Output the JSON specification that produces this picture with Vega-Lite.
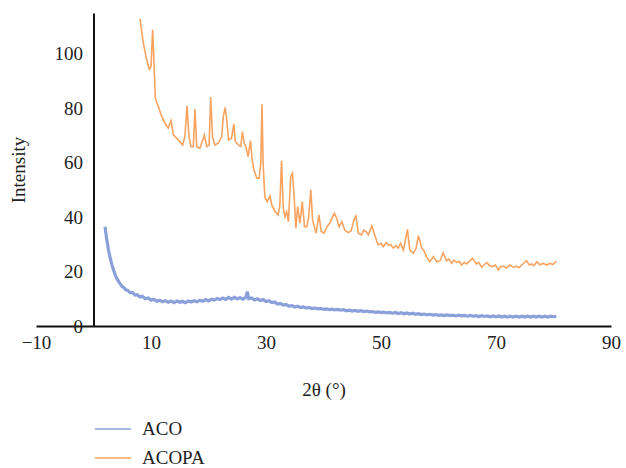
{
"$schema": "https://vega.github.io/schema/vega-lite/v6.json",
"width": 575, "height": 313,
"autosize": "none",
"padding": {"left": 36, "top": 13, "right": 15, "bottom": 142},
"background": "white",
"config": {"view": {"stroke": null}, "font": "Liberation Serif"},
"data": {"values": [
{"s":"ACO","x":2.0,"y":36.5},{"s":"ACO","x":2.3,"y":32},{"s":"ACO","x":2.6,"y":28},{"s":"ACO","x":2.9,"y":25},{"s":"ACO","x":3.2,"y":22.5},{"s":"ACO","x":3.5,"y":20.5},{"s":"ACO","x":3.8,"y":18.6},{"s":"ACO","x":4.1,"y":17.3},{"s":"ACO","x":4.4,"y":16.2},{"s":"ACO","x":4.7,"y":15.3},{"s":"ACO","x":5.0,"y":14.4},{"s":"ACO","x":5.3,"y":14.1},{"s":"ACO","x":5.6,"y":13.3},{"s":"ACO","x":6.0,"y":13.0},{"s":"ACO","x":6.4,"y":12.2},{"s":"ACO","x":6.8,"y":12.3},{"s":"ACO","x":7.2,"y":11.4},{"s":"ACO","x":7.6,"y":11.5},{"s":"ACO","x":8.0,"y":10.7},{"s":"ACO","x":8.5,"y":10.9},{"s":"ACO","x":9.0,"y":10.0},{"s":"ACO","x":9.5,"y":10.3},{"s":"ACO","x":10,"y":9.5},{"s":"ACO","x":10.5,"y":9.8},{"s":"ACO","x":11,"y":9.1},{"s":"ACO","x":11.5,"y":9.5},{"s":"ACO","x":12,"y":8.9},{"s":"ACO","x":12.5,"y":9.3},{"s":"ACO","x":13,"y":8.7},{"s":"ACO","x":13.5,"y":9.2},{"s":"ACO","x":14,"y":8.6},{"s":"ACO","x":14.5,"y":9.2},{"s":"ACO","x":15,"y":8.7},{"s":"ACO","x":15.5,"y":9.1},{"s":"ACO","x":16,"y":8.6},{"s":"ACO","x":16.5,"y":9.2},{"s":"ACO","x":17,"y":8.8},{"s":"ACO","x":17.5,"y":9.3},{"s":"ACO","x":18,"y":8.9},{"s":"ACO","x":18.5,"y":9.5},{"s":"ACO","x":19,"y":9.1},{"s":"ACO","x":19.5,"y":9.7},{"s":"ACO","x":20,"y":9.2},{"s":"ACO","x":20.5,"y":9.8},{"s":"ACO","x":21,"y":9.5},{"s":"ACO","x":21.5,"y":10.1},{"s":"ACO","x":22,"y":9.7},{"s":"ACO","x":22.5,"y":10.3},{"s":"ACO","x":23,"y":9.8},{"s":"ACO","x":23.5,"y":10.5},{"s":"ACO","x":24,"y":9.9},{"s":"ACO","x":24.5,"y":10.5},{"s":"ACO","x":25,"y":10.0},{"s":"ACO","x":25.5,"y":10.4},{"s":"ACO","x":26,"y":9.9},{"s":"ACO","x":26.5,"y":10.6},{"s":"ACO","x":26.75,"y":12.6},{"s":"ACO","x":27,"y":10.0},{"s":"ACO","x":27.5,"y":10.3},{"s":"ACO","x":28,"y":9.6},{"s":"ACO","x":28.5,"y":10.0},{"s":"ACO","x":29,"y":9.4},{"s":"ACO","x":29.5,"y":9.7},{"s":"ACO","x":30,"y":9.0},{"s":"ACO","x":30.5,"y":9.3},{"s":"ACO","x":31,"y":8.6},{"s":"ACO","x":31.5,"y":8.8},{"s":"ACO","x":32,"y":8.1},{"s":"ACO","x":32.5,"y":8.3},{"s":"ACO","x":33,"y":7.7},{"s":"ACO","x":33.5,"y":7.9},{"s":"ACO","x":34,"y":7.3},{"s":"ACO","x":34.5,"y":7.5},{"s":"ACO","x":35,"y":7.0},{"s":"ACO","x":35.5,"y":7.3},{"s":"ACO","x":36,"y":6.8},{"s":"ACO","x":36.5,"y":7.0},{"s":"ACO","x":37,"y":6.6},{"s":"ACO","x":37.5,"y":6.8},{"s":"ACO","x":38,"y":6.4},{"s":"ACO","x":38.5,"y":6.6},{"s":"ACO","x":39,"y":6.3},{"s":"ACO","x":39.5,"y":6.5},{"s":"ACO","x":40,"y":6.1},{"s":"ACO","x":40.5,"y":6.3},{"s":"ACO","x":41,"y":6.0},{"s":"ACO","x":41.5,"y":6.2},{"s":"ACO","x":42,"y":5.9},{"s":"ACO","x":42.5,"y":6.1},{"s":"ACO","x":43,"y":5.8},{"s":"ACO","x":43.5,"y":6.0},{"s":"ACO","x":44,"y":5.6},{"s":"ACO","x":44.5,"y":5.8},{"s":"ACO","x":45,"y":5.5},{"s":"ACO","x":45.5,"y":5.7},{"s":"ACO","x":46,"y":5.4},{"s":"ACO","x":46.5,"y":5.6},{"s":"ACO","x":47,"y":5.3},{"s":"ACO","x":47.5,"y":5.5},{"s":"ACO","x":48,"y":5.2},{"s":"ACO","x":48.5,"y":5.3},{"s":"ACO","x":49,"y":5.0},{"s":"ACO","x":49.5,"y":5.2},{"s":"ACO","x":50,"y":4.9},{"s":"ACO","x":50.5,"y":5.1},{"s":"ACO","x":51,"y":4.8},{"s":"ACO","x":51.5,"y":5.0},{"s":"ACO","x":52,"y":4.7},{"s":"ACO","x":52.5,"y":5.0},{"s":"ACO","x":53,"y":4.6},{"s":"ACO","x":53.5,"y":4.9},{"s":"ACO","x":54,"y":4.5},{"s":"ACO","x":54.5,"y":4.8},{"s":"ACO","x":55,"y":4.4},{"s":"ACO","x":55.5,"y":4.7},{"s":"ACO","x":56,"y":4.3},{"s":"ACO","x":56.5,"y":4.5},{"s":"ACO","x":57,"y":4.2},{"s":"ACO","x":57.5,"y":4.4},{"s":"ACO","x":58,"y":4.1},{"s":"ACO","x":58.5,"y":4.3},{"s":"ACO","x":59,"y":4.0},{"s":"ACO","x":59.5,"y":4.2},{"s":"ACO","x":60,"y":3.9},{"s":"ACO","x":60.5,"y":4.1},{"s":"ACO","x":61,"y":3.8},{"s":"ACO","x":61.5,"y":4.1},{"s":"ACO","x":62,"y":3.8},{"s":"ACO","x":62.5,"y":4.0},{"s":"ACO","x":63,"y":3.7},{"s":"ACO","x":63.5,"y":4.0},{"s":"ACO","x":64,"y":3.7},{"s":"ACO","x":64.5,"y":3.9},{"s":"ACO","x":65,"y":3.6},{"s":"ACO","x":65.5,"y":3.9},{"s":"ACO","x":66,"y":3.6},{"s":"ACO","x":66.5,"y":3.8},{"s":"ACO","x":67,"y":3.5},{"s":"ACO","x":67.5,"y":3.8},{"s":"ACO","x":68,"y":3.5},{"s":"ACO","x":68.5,"y":3.7},{"s":"ACO","x":69,"y":3.4},{"s":"ACO","x":69.5,"y":3.7},{"s":"ACO","x":70,"y":3.4},{"s":"ACO","x":70.5,"y":3.7},{"s":"ACO","x":71,"y":3.3},{"s":"ACO","x":71.5,"y":3.6},{"s":"ACO","x":72,"y":3.3},{"s":"ACO","x":72.5,"y":3.6},{"s":"ACO","x":73,"y":3.3},{"s":"ACO","x":73.5,"y":3.6},{"s":"ACO","x":74,"y":3.3},{"s":"ACO","x":74.5,"y":3.6},{"s":"ACO","x":75,"y":3.3},{"s":"ACO","x":75.5,"y":3.6},{"s":"ACO","x":76,"y":3.3},{"s":"ACO","x":76.5,"y":3.6},{"s":"ACO","x":77,"y":3.3},{"s":"ACO","x":77.5,"y":3.6},{"s":"ACO","x":78,"y":3.3},{"s":"ACO","x":78.5,"y":3.6},{"s":"ACO","x":79,"y":3.3},{"s":"ACO","x":79.5,"y":3.6},{"s":"ACO","x":80,"y":3.4},{"s":"ACO","x":80.5,"y":3.6},
{"s":"ACOPA","x":8.09,"y":112.8},{"s":"ACOPA","x":8.67,"y":103.9},{"s":"ACOPA","x":9.25,"y":97.8},{"s":"ACOPA","x":9.7,"y":94.4},{"s":"ACOPA","x":10.0,"y":95.3},{"s":"ACOPA","x":10.29,"y":108.8},{"s":"ACOPA","x":10.5,"y":97.8},{"s":"ACOPA","x":10.75,"y":83.7},{"s":"ACOPA","x":11.27,"y":80.6},{"s":"ACOPA","x":11.86,"y":77},{"s":"ACOPA","x":12.43,"y":74.5},{"s":"ACOPA","x":13.0,"y":72.7},{"s":"ACOPA","x":13.48,"y":75.4},{"s":"ACOPA","x":13.9,"y":70.2},{"s":"ACOPA","x":14.75,"y":68.4},{"s":"ACOPA","x":15.5,"y":66.5},{"s":"ACOPA","x":15.9,"y":69.6},{"s":"ACOPA","x":16.26,"y":80.9},{"s":"ACOPA","x":16.6,"y":69.6},{"s":"ACOPA","x":16.96,"y":65.9},{"s":"ACOPA","x":17.36,"y":65.9},{"s":"ACOPA","x":17.65,"y":79.7},{"s":"ACOPA","x":17.95,"y":65.9},{"s":"ACOPA","x":18.5,"y":65.3},{"s":"ACOPA","x":19.27,"y":70.2},{"s":"ACOPA","x":19.7,"y":65.9},{"s":"ACOPA","x":20.1,"y":66.5},{"s":"ACOPA","x":20.38,"y":84.1},{"s":"ACOPA","x":20.7,"y":69.6},{"s":"ACOPA","x":21.1,"y":66.5},{"s":"ACOPA","x":21.7,"y":67.2},{"s":"ACOPA","x":22.3,"y":69.6},{"s":"ACOPA","x":22.57,"y":77},{"s":"ACOPA","x":22.9,"y":80.3},{"s":"ACOPA","x":23.17,"y":75.7},{"s":"ACOPA","x":23.5,"y":68.4},{"s":"ACOPA","x":24.0,"y":69},{"s":"ACOPA","x":24.4,"y":74.3},{"s":"ACOPA","x":24.66,"y":67.8},{"s":"ACOPA","x":25.2,"y":66.5},{"s":"ACOPA","x":25.6,"y":65.9},{"s":"ACOPA","x":25.9,"y":71.4},{"s":"ACOPA","x":26.2,"y":67.2},{"s":"ACOPA","x":26.5,"y":65.9},{"s":"ACOPA","x":26.9,"y":62.2},{"s":"ACOPA","x":27.3,"y":68.1},{"s":"ACOPA","x":27.6,"y":61},{"s":"ACOPA","x":27.9,"y":57.4},{"s":"ACOPA","x":28.4,"y":54.3},{"s":"ACOPA","x":28.8,"y":54.3},{"s":"ACOPA","x":29.1,"y":59.8},{"s":"ACOPA","x":29.3,"y":81.5},{"s":"ACOPA","x":29.5,"y":59.8},{"s":"ACOPA","x":29.8,"y":47.5},{"s":"ACOPA","x":30.2,"y":45.7},{"s":"ACOPA","x":30.7,"y":47.8},{"s":"ACOPA","x":31.0,"y":44.5},{"s":"ACOPA","x":31.6,"y":42},{"s":"ACOPA","x":32.1,"y":40.8},{"s":"ACOPA","x":32.4,"y":43.9},{"s":"ACOPA","x":32.7,"y":60.7},{"s":"ACOPA","x":33.0,"y":43.3},{"s":"ACOPA","x":33.3,"y":40.2},{"s":"ACOPA","x":33.6,"y":42},{"s":"ACOPA","x":33.9,"y":38.3},{"s":"ACOPA","x":34.3,"y":54.9},{"s":"ACOPA","x":34.6,"y":56.1},{"s":"ACOPA","x":34.9,"y":47.5},{"s":"ACOPA","x":35.2,"y":35.9},{"s":"ACOPA","x":35.5,"y":43.9},{"s":"ACOPA","x":35.9,"y":37.8},{"s":"ACOPA","x":36.3,"y":45.7},{"s":"ACOPA","x":36.7,"y":36.5},{"s":"ACOPA","x":37.1,"y":36.5},{"s":"ACOPA","x":37.4,"y":39.6},{"s":"ACOPA","x":37.8,"y":50},{"s":"ACOPA","x":38.1,"y":39},{"s":"ACOPA","x":38.4,"y":36.5},{"s":"ACOPA","x":38.7,"y":34.1},{"s":"ACOPA","x":39.2,"y":40.8},{"s":"ACOPA","x":39.6,"y":34.7},{"s":"ACOPA","x":40.1,"y":34.1},{"s":"ACOPA","x":40.6,"y":36.5},{"s":"ACOPA","x":41.1,"y":37.8},{"s":"ACOPA","x":41.6,"y":40.2},{"s":"ACOPA","x":41.9,"y":41.4},{"s":"ACOPA","x":42.3,"y":39.6},{"s":"ACOPA","x":42.7,"y":36.5},{"s":"ACOPA","x":43.2,"y":38.3},{"s":"ACOPA","x":43.7,"y":35.3},{"s":"ACOPA","x":44.3,"y":34.3},{"s":"ACOPA","x":44.8,"y":34.9},{"s":"ACOPA","x":45.3,"y":39},{"s":"ACOPA","x":45.65,"y":40.4},{"s":"ACOPA","x":46.05,"y":34.1},{"s":"ACOPA","x":46.6,"y":33.5},{"s":"ACOPA","x":47.0,"y":35.2},{"s":"ACOPA","x":47.4,"y":34.7},{"s":"ACOPA","x":47.8,"y":33.5},{"s":"ACOPA","x":48.4,"y":36.8},{"s":"ACOPA","x":49.0,"y":32.8},{"s":"ACOPA","x":49.5,"y":29.8},{"s":"ACOPA","x":50.0,"y":30.4},{"s":"ACOPA","x":50.4,"y":29.2},{"s":"ACOPA","x":50.9,"y":30.6},{"s":"ACOPA","x":51.3,"y":29.8},{"s":"ACOPA","x":51.7,"y":29.9},{"s":"ACOPA","x":52.1,"y":28.6},{"s":"ACOPA","x":52.6,"y":29.5},{"s":"ACOPA","x":53.0,"y":28.6},{"s":"ACOPA","x":53.4,"y":30.4},{"s":"ACOPA","x":53.9,"y":27.9},{"s":"ACOPA","x":54.6,"y":35.5},{"s":"ACOPA","x":55.0,"y":27.9},{"s":"ACOPA","x":55.6,"y":26.7},{"s":"ACOPA","x":56.1,"y":28.5},{"s":"ACOPA","x":56.5,"y":33.2},{"s":"ACOPA","x":57.1,"y":28.6},{"s":"ACOPA","x":57.5,"y":27.6},{"s":"ACOPA","x":57.9,"y":25.5},{"s":"ACOPA","x":58.5,"y":23.6},{"s":"ACOPA","x":59.1,"y":25.5},{"s":"ACOPA","x":59.7,"y":23.6},{"s":"ACOPA","x":60.3,"y":24},{"s":"ACOPA","x":60.8,"y":26.9},{"s":"ACOPA","x":61.4,"y":24},{"s":"ACOPA","x":61.8,"y":24.6},{"s":"ACOPA","x":62.3,"y":23},{"s":"ACOPA","x":62.7,"y":24.2},{"s":"ACOPA","x":63.2,"y":23.3},{"s":"ACOPA","x":63.6,"y":23.8},{"s":"ACOPA","x":64.0,"y":22.4},{"s":"ACOPA","x":64.5,"y":23.4},{"s":"ACOPA","x":64.9,"y":22.8},{"s":"ACOPA","x":65.9,"y":24.9},{"s":"ACOPA","x":66.6,"y":22.8},{"s":"ACOPA","x":67.0,"y":23.4},{"s":"ACOPA","x":67.5,"y":21.6},{"s":"ACOPA","x":68.0,"y":22.6},{"s":"ACOPA","x":68.4,"y":23.3},{"s":"ACOPA","x":68.9,"y":22.2},{"s":"ACOPA","x":69.3,"y":21.8},{"s":"ACOPA","x":69.9,"y":22.4},{"s":"ACOPA","x":70.4,"y":20.6},{"s":"ACOPA","x":70.8,"y":21.8},{"s":"ACOPA","x":71.3,"y":22},{"s":"ACOPA","x":71.8,"y":21.3},{"s":"ACOPA","x":72.4,"y":22.4},{"s":"ACOPA","x":73.0,"y":21.6},{"s":"ACOPA","x":73.6,"y":22},{"s":"ACOPA","x":74.0,"y":21.4},{"s":"ACOPA","x":74.5,"y":22.4},{"s":"ACOPA","x":75.3,"y":24},{"s":"ACOPA","x":75.8,"y":22.4},{"s":"ACOPA","x":76.2,"y":22.8},{"s":"ACOPA","x":76.6,"y":22.2},{"s":"ACOPA","x":77.1,"y":23.6},{"s":"ACOPA","x":77.6,"y":22.5},{"s":"ACOPA","x":78.2,"y":23},{"s":"ACOPA","x":78.8,"y":22.4},{"s":"ACOPA","x":79.4,"y":23},{"s":"ACOPA","x":79.9,"y":22.6},{"s":"ACOPA","x":80.5,"y":23.9}
]},
"encoding": {
  "x": {"field": "x", "type": "quantitative",
    "scale": {"domain": [-10, 90], "nice": false, "zero": false},
    "axis": {"values": [-10, 10, 30, 50, 70, 90], "grid": false, "ticks": false, "tickSize": 0,
      "domainColor": "#111111", "domainWidth": 2, "labelFont": "Liberation Serif", "labelFontSize": 19,
      "labelColor": "#222222", "labelPadding": 7, "labelFlush": false,
      "title": "2θ (°)", "titleFont": "Liberation Serif", "titleFontSize": 19, "titleFontWeight": "normal",
      "titleColor": "#222222", "titlePadding": 28}},
  "y": {"field": "y", "type": "quantitative",
    "scale": {"domain": [0, 115], "nice": false},
    "axis": {"values": [0, 20, 40, 60, 80, 100], "grid": false, "ticks": false, "tickSize": 0, "offset": -57.5,
      "domainColor": "#111111", "domainWidth": 2, "labelFont": "Liberation Serif", "labelFontSize": 19,
      "labelColor": "#222222", "labelPadding": 11,
      "title": "Intensity", "titleFont": "Liberation Serif", "titleFontSize": 19, "titleFontWeight": "normal",
      "titleColor": "#222222", "titlePadding": 26}},
  "color": {"field": "s", "type": "nominal",
    "scale": {"domain": ["ACO", "ACOPA"], "range": ["#8aa0da", "#f8a35f"]},
    "legend": {"title": null, "orient": "none", "legendX": 58, "legendY": 397, "direction": "vertical",
      "symbolType": "stroke", "symbolSize": 1296, "symbolStrokeWidth": 1.6, "labelFont": "Liberation Serif",
      "labelFontSize": 19, "labelColor": "#222222", "labelOffset": 10, "rowPadding": -3, "padding": 0}}
},
"layer": [
  {"transform": [{"filter": "datum.s === 'ACOPA'"}], "mark": {"type": "line", "strokeWidth": 1.6}},
  {"transform": [{"filter": "datum.s === 'ACO'"}], "mark": {"type": "line", "strokeWidth": 3.2}}
]
}
